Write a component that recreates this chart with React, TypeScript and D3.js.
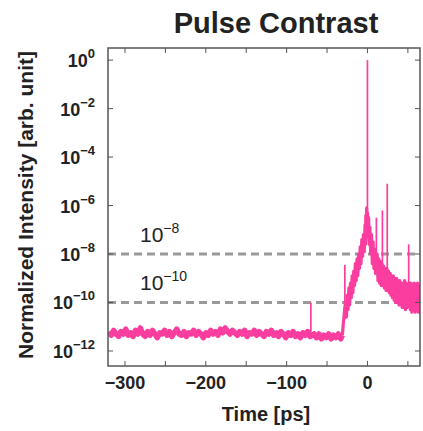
import React from 'react';
import * as d3 from 'd3';

// trace: [time in ps, log10 of normalized intensity]
const baselineTrace: [number, number][] = [
  [-320, -11.2], [-317, -11.35], [-314, -11.15], [-311, -11.3], [-308, -11.4], [-305, -11.2],
  [-302, -11.3], [-299, -11.1], [-296, -11.35], [-293, -11.25], [-290, -11.4], [-287, -11.15],
  [-284, -11.3], [-281, -11.05], [-278, -11.3], [-275, -11.4], [-272, -11.2], [-269, -11.35],
  [-266, -11.15], [-263, -11.3], [-260, -11.45], [-257, -11.25], [-254, -11.3], [-251, -11.15],
  [-248, -11.35], [-245, -11.2], [-242, -11.4], [-239, -11.25], [-236, -11.1], [-233, -11.3],
  [-230, -11.35], [-227, -11.2], [-224, -11.4], [-221, -11.25], [-218, -11.3], [-215, -11.15],
  [-212, -11.35], [-209, -11.2], [-206, -11.3], [-203, -11.45], [-200, -11.25], [-197, -11.35],
  [-194, -11.15], [-191, -11.3], [-188, -11.2], [-185, -11.35], [-182, -11.1], [-179, -11.25],
  [-176, -11.05], [-173, -11.2], [-170, -11.3], [-167, -11.15], [-164, -11.25], [-161, -11.35],
  [-158, -11.2], [-155, -11.3], [-152, -11.15], [-149, -11.4], [-146, -11.25], [-143, -11.3],
  [-140, -11.15], [-137, -11.35], [-134, -11.2], [-131, -11.3], [-128, -11.4], [-125, -11.2],
  [-122, -11.3], [-119, -11.15], [-116, -11.35], [-113, -11.25], [-110, -11.4], [-107, -11.2],
  [-104, -11.3], [-101, -11.45], [-98, -11.25], [-95, -11.35], [-92, -11.2], [-89, -11.4],
  [-86, -11.3], [-83, -11.45], [-80, -11.25], [-77, -11.35], [-74, -11.2], [-71, -11.4],
  [-68, -11.35], [-66, -11.3], [-63, -11.45], [-60, -11.3], [-57, -11.5], [-54, -11.35],
  [-51, -11.45], [-48, -11.3], [-45, -11.5], [-42, -11.35], [-39, -11.45], [-36, -11.3],
  [-33, -11.5], [-31, -11.35],
];

const pulseTrace: [number, number][] = [
  [-31, -11.35], [-30, -10.9], [-29, -10.6], [-28, -10.2], [-27, -10.0], [-26, -10.6],
  [-25, -9.7], [-24, -10.3], [-23, -9.4], [-22, -10.1], [-21, -9.2], [-20, -9.8], [-19, -8.9],
  [-18, -9.6], [-17, -8.7], [-16, -9.3], [-15, -8.4], [-14, -9.1], [-13, -8.2], [-12, -8.9],
  [-11, -8.0], [-10, -8.6], [-9, -7.7], [-8, -8.4], [-7, -7.4], [-6, -8.1], [-5, -7.2],
  [-4, -7.9], [-3, -6.8], [-2.5, -7.6], [-2, -6.4], [-1.5, -7.3], [-1, -6.1], [-0.5, -6.8],
  [0, -6.3], [0.5, -6.6], [1, -7.2], [1.5, -6.5], [2, -7.6], [3, -6.9], [4, -8.0], [5, -7.2],
  [6, -8.4], [7, -7.5], [8, -8.6], [9, -7.8], [10, -8.8], [11, -8.3], [12, -8.0], [13, -9.1],
  [14, -8.2], [15, -9.2], [16, -8.3], [17, -9.3], [18, -8.4], [19, -9.3], [20, -8.5],
  [21, -9.4], [22, -8.6], [23, -9.5], [24, -8.6], [25, -9.5], [26, -8.7], [27, -9.6],
  [28, -8.8], [29, -9.7], [30, -8.9], [31, -9.8], [32, -8.9], [33, -9.9], [34, -9.0],
  [35, -10.0], [36, -9.0], [37, -10.0], [38, -9.1], [39, -10.1], [40, -9.1], [41, -10.1],
  [42, -9.2], [43, -10.2], [44, -9.2], [45, -10.2], [46, -9.1], [47, -10.3], [48, -9.2],
  [49, -10.2], [50, -9.3], [51, -9.8], [52, -9.2], [53, -10.3], [54, -9.2], [55, -10.4],
  [56, -9.3], [57, -10.3], [58, -9.2], [59, -10.4], [60, -9.3], [61, -10.3], [62, -9.2],
  [63, -10.4], [64, -9.3], [65, -10.2],
];

// narrow spikes: [time, log10 at foot, log10 at tip]
const spikes: [number, number, number][] = [
  [-70, -11.3, -10.0],
  [-28, -10.4, -8.45],
  [0, -6.4, 0],
  [11, -8.4, -6.5],
  [18.5, -8.6, -6.2],
  [24.5, -8.8, -5.1],
  [51, -9.6, -7.6],
];

const xTicks = [-300, -200, -100, 0];
const xMinorTicks = [-250, -150, -50, 50];
const yTickExps = [0, -2, -4, -6, -8, -10, -12];
const levelExps = [-8, -10];

const W = 423;
const H = 431;
const margin = { top: 48, right: 3, bottom: 65, left: 108 };
const font = "'Liberation Sans', Arial, Helvetica, sans-serif";
const pink = '#fa3d9e';

export default function App() {
  const x = d3.scaleLinear().domain([-321, 65]).range([margin.left, W - margin.right]);
  const y = d3.scaleLog().domain([10 ** -12.62, 10 ** 0.5]).range([H - margin.bottom, margin.top]);

  const line = d3
    .line<[number, number]>()
    .x((d) => x(d[0]))
    .y((d) => y(10 ** d[1]));

  const x0 = margin.left;
  const x1 = W - margin.right;
  const y0 = H - margin.bottom;
  const y1 = margin.top;
  const tickLen = 5;

  return (
    <svg width={W} height={H} style={{ position: 'absolute', left: 0, top: 0 }} fontFamily={font}>
      <defs>
        <clipPath id="plot">
          <rect x={x0} y={y1} width={x1 - x0} height={y0 - y1} />
        </clipPath>
      </defs>

      <text x={276} y={33} textAnchor="middle" fontSize={29} fontWeight="bold" fill="#222">
        Pulse Contrast
      </text>

      {/* dashed contrast levels */}
      {levelExps.map((e) => (
        <line key={e} x1={x0} x2={x1} y1={y(10 ** e)} y2={y(10 ** e)}
          stroke="#999" strokeWidth={3} strokeDasharray="8,5" />
      ))}
      {levelExps.map((e) => (
        <text key={'l' + e} x={140} y={y(10 ** e) - 12} fontSize={21} fill="#222">
          10<tspan fontSize={14} dy={-9}>{'\u2212' + Math.abs(e)}</tspan>
        </text>
      ))}

      <g clipPath="url(#plot)" fill="none" stroke={pink} strokeLinejoin="round">
        <path d={line(baselineTrace) || ''} strokeWidth={5.5} />
        <path d={line(pulseTrace) || ''} strokeWidth={3.2} />
        {spikes.map(([t, a, b]) => (
          <line key={t} x1={x(t)} x2={x(t)} y1={y(10 ** a)} y2={y(10 ** b)} strokeWidth={1.7} />
        ))}
      </g>

      {/* frame + ticks */}
      <rect x={x0} y={y1} width={x1 - x0} height={y0 - y1} fill="none" stroke="#555" strokeWidth={1.5} />
      {[...xTicks, ...xMinorTicks].map((t) => (
        <g key={t} stroke="#555" strokeWidth={1}>
          <line x1={x(t)} x2={x(t)} y1={y0} y2={y0 - tickLen} />
          <line x1={x(t)} x2={x(t)} y1={y1} y2={y1 + tickLen} />
        </g>
      ))}
      {yTickExps.map((e) => (
        <g key={e} stroke="#555" strokeWidth={1}>
          <line x1={x0} x2={x0 + tickLen} y1={y(10 ** e)} y2={y(10 ** e)} />
          <line x1={x1} x2={x1 - tickLen} y1={y(10 ** e)} y2={y(10 ** e)} />
        </g>
      ))}

      {xTicks.map((t) => (
        <text key={t} x={x(t)} y={y0 + 23} textAnchor="middle" fontSize={18} fontWeight="bold" fill="#222">
          {t < 0 ? '\u2212' + Math.abs(t) : t}
        </text>
      ))}
      {yTickExps.map((e) => (
        <text key={e} x={95} y={y(10 ** e) + 7} textAnchor="end" fontSize={18} fontWeight="bold" fill="#222">
          10<tspan fontSize={13} dy={-9}>{e === 0 ? '0' : '\u2212' + Math.abs(e)}</tspan>
        </text>
      ))}

      <text x={266} y={421} textAnchor="middle" fontSize={20} fontWeight="bold" fill="#222">
        Time [ps]
      </text>
      <text transform={`translate(33,${(y0 + y1) / 2 - 2}) rotate(-90)`} textAnchor="middle"
        fontSize={21} fontWeight="bold" fill="#222">
        Normalized Intensity [arb. unit]
      </text>
    </svg>
  );
}
